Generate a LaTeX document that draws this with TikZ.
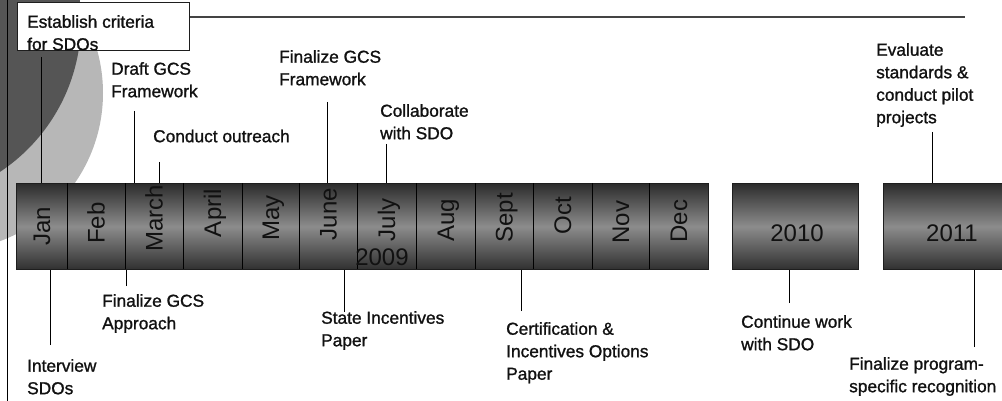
\documentclass[tikz,border=0pt]{standalone}
\usepackage{fontspec}
\setmainfont{Liberation Sans}
\newfontfamily\lblfont{Liberation Sans}[FakeBold=1.2]
\definecolor{darkdisc}{HTML}{555555}
\definecolor{lightdisc}{HTML}{B7B7B7}
\definecolor{barTop}{HTML}{2C2C2C}
\definecolor{barMid}{HTML}{8C8C8C}
\definecolor{barBot}{HTML}{303030}
\definecolor{barEdge}{HTML}{1E1E1E}
\definecolor{ink}{HTML}{111111}
\definecolor{rulegray}{HTML}{444444}
\begin{document}
\begin{tikzpicture}[x=1pt,y=-1pt,
  lbl/.style={anchor=north west, inner sep=0pt, align=left, text=ink,
    font=\lblfont\fontsize{17.3}{22.5}\selectfont,
    execute at begin node={\rule{0pt}{13pt}}},
  barbox/.style={anchor=north west, inner sep=0pt, draw=barEdge, line width=1pt,
    top color=barTop, bottom color=barBot, middle color=barMid, minimum height=86pt},
  mon/.style={rotate=90, anchor=center, inner sep=0pt, text=ink,
    font=\fontsize{24}{24}\selectfont, text height=17pt, text depth=0pt},
  yr/.style={anchor=center, inner sep=0pt, text=ink, font=\fontsize{24}{24}\selectfont},
  conn/.style={draw=black, line width=1pt},
  divider/.style={draw=black, line width=0.9pt}]
\useasboundingbox (0,0) rectangle (1002,401);
\begin{scope}
  \clip (0,0) rectangle (1002,401);
  \fill[lightdisc] (-55,93) circle [radius=158pt];
  \fill[darkdisc] (-100,21) circle [radius=181pt];
\end{scope}
\draw[black, line width=1pt] (7.5,0) -- (7.5,401);
% header box and rule
\draw[rulegray, line width=1.5pt] (189,17) -- (965,17);
\draw[fill=white, draw=barEdge, line width=1pt] (17,3) rectangle (189,51);
% 2009 bar
\node[barbox, minimum width=692pt] (bar) at (16,183) {};
\foreach \x in {67,125,183,242,299,357,416,475,533,592,649}
  \draw[divider] (\x,183.5) -- (\x,268.5);
\node[mon] (jan) at (41.5,226) {Jan};
\node[mon] (feb) at (96,223) {Feb};
\node[mon] (mar) at (154,218) {March};
\node[mon] (apr) at (212.5,213) {April};
\node[mon] (may) at (270.5,218) {May};
\node[mon] (jun) at (328,214) {June};
\node[mon] (jul) at (386.5,220) {July};
\node[mon] (aug) at (445.5,220) {Aug};
\node[mon] (sep) at (504,218) {Sept};
\node[mon] (oct) at (562.5,216) {Oct};
\node[mon] (nov) at (620.5,222) {Nov};
\node[mon] (dec) at (678.5,221) {Dec};
\node[yr] (y2009) at (382,257) {2009};
% later years
\node[barbox, minimum width=126pt] (b2010) at (732,183) {};
\node[yr] (y2010) at (797,233.5) {2010};
\begin{scope}
  \clip (0,0) rectangle (1002,401);
  \node[barbox, minimum width=127pt] (b2011) at (883,183) {};
\end{scope}
\node[yr] (y2011) at (952,233.5) {2011};
% labels above
\node[lbl] (l1) at (27,15) {Establish criteria\\for SDOs};
\node[lbl] (l2) at (111,62) {Draft GCS\\Framework};
\node[lbl] (l3) at (153,129) {Conduct outreach};
\node[lbl] (l4) at (279,50) {Finalize GCS\\Framework};
\node[lbl] (l5) at (380,104) {Collaborate\\with SDO};
\node[lbl] (l6) at (876,43) {Evaluate\\standards \&\\conduct pilot\\projects};
% labels below
\node[lbl] (l7) at (27,359) {Interview\\SDOs};
\node[lbl] (l8) at (102,294) {Finalize GCS\\Approach};
\node[lbl] (l9) at (321,311) {State Incentives\\Paper};
\node[lbl] (l10) at (506,322) {Certification \&\\Incentives Options\\Paper};
\node[lbl] (l11) at (741,315) {Continue work\\with SDO};
\node[lbl] (l12) at (849,357) {Finalize program-\\specific recognition};
% connector ends
\coordinate (a1) at (41,57);
\coordinate (a2) at (134,111);
\coordinate (a3) at (159,162);
\coordinate (a4) at (327,102);
\coordinate (a5) at (386,144);
\coordinate (a6) at (932,132);
\coordinate (a7) at (50,345);
\coordinate (a8) at (126,286);
\coordinate (a9) at (344,312);
\coordinate (a10) at (521,311);
\coordinate (a11) at (789,303);
\coordinate (a12) at (974,347);
\draw[conn] (a1) -- (a1 |- bar.north);
\draw[conn] (a2) -- (a2 |- bar.north);
\draw[conn] (a3) -- (a3 |- bar.north);
\draw[conn] (a4) -- (a4 |- bar.north);
\draw[conn] (a5) -- (a5 |- bar.north);
\draw[conn] (a6) -- (a6 |- b2011.north);
\draw[conn] (a7) -- (a7 |- bar.south);
\draw[conn] (a8) -- (a8 |- bar.south);
\draw[conn] (a9) -- (a9 |- bar.south);
\draw[conn] (a10) -- (a10 |- bar.south);
\draw[conn] (a11) -- (a11 |- b2010.south);
\draw[conn] (a12) -- (a12 |- b2011.south);
\end{tikzpicture}
\end{document}
